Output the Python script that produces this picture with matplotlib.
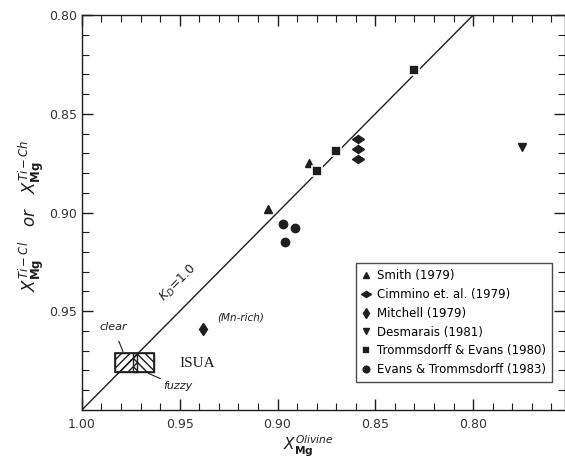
import matplotlib
matplotlib.use('Agg')
import matplotlib.pyplot as plt
from matplotlib.markers import MarkerStyle
from matplotlib.transforms import Affine2D
from matplotlib.patches import Rectangle

# olivine X_Mg (x) vs Ti-clinohumite / Ti-chondrodite X_Mg (y)
smith_x = [0.884, 0.905]
smith_y = [0.875, 0.898]
cimmino_x = [0.859, 0.859, 0.859]
cimmino_y = [0.863, 0.868, 0.873]
mitchell_x = [0.938]
mitchell_y = [0.959]
desmarais_x = [0.775]
desmarais_y = [0.867]
trom_evans_x = [0.830, 0.870, 0.880]
trom_evans_y = [0.828, 0.869, 0.879]
evans_trom_x = [0.897, 0.891, 0.896]
evans_trom_y = [0.906, 0.908, 0.915]

kd_line = [1.00, 0.80]
isua_clear = (0.983, 0.972)   # x range, hatched ///
isua_fuzzy = (0.974, 0.963)   # x range, hatched \\\
isua_y = (0.971, 0.981)

ink = '#1e1e1e'
plt.rcParams['hatch.linewidth'] = 1.0
plt.rcParams['hatch.color'] = ink

fig = plt.figure(figsize=(5.65, 4.58), dpi=100)
ax = fig.add_axes([0.145, 0.105, 0.855, 0.862])

ax.plot(kd_line, kd_line, color=ink, lw=1.0, zorder=1)

wide_d = MarkerStyle('d', transform=Affine2D().rotate_deg(90))
ms = dict(color=ink, linestyle='none', zorder=3)
ax.plot(smith_x, smith_y, marker='^', markersize=6, label='Smith (1979)', **ms)
ax.plot(cimmino_x, cimmino_y, marker=wide_d, markersize=6.5, label='Cimmino et. al. (1979)', **ms)
ax.plot(mitchell_x, mitchell_y, marker='d', markersize=6.5, label='Mitchell (1979)', **ms)
ax.plot(desmarais_x, desmarais_y, marker='v', markersize=6, label='Desmarais (1981)', **ms)
ax.plot(trom_evans_x, trom_evans_y, marker='s', markersize=7, markeredgecolor='white',
        markeredgewidth=1.2, label='Trommsdorff & Evans (1980)', color=ink, linestyle='none', zorder=3)
ax.plot(evans_trom_x, evans_trom_y, marker='o', markersize=6, label='Evans & Trommsdorff (1983)', **ms)

# ISUA box
ax.add_patch(Rectangle((isua_clear[1], isua_y[0]), isua_clear[0] - isua_clear[1],
                       isua_y[1] - isua_y[0], fill=False, hatch='////', edgecolor=ink, lw=1.0, zorder=2))
ax.add_patch(Rectangle((isua_fuzzy[1], isua_y[0]), isua_fuzzy[0] - isua_fuzzy[1],
                       isua_y[1] - isua_y[0], fill=False, hatch='\\\\\\\\', edgecolor=ink, lw=1.0, zorder=2))
ax.add_patch(Rectangle((isua_fuzzy[1], isua_y[0]), isua_clear[0] - isua_fuzzy[1],
                       isua_y[1] - isua_y[0], fill=False, edgecolor=ink, lw=1.2, zorder=2))

ax.text(0.941, 0.9765, 'ISUA', fontsize=11, ha='center', va='center', color=ink,
        family='Liberation Serif')
ax.annotate('clear', xy=(0.979, 0.9705), xytext=(0.984, 0.958), fontsize=8, style='italic',
            ha='center', va='center', color=ink,
            arrowprops=dict(arrowstyle='-', color=ink, lw=0.8, shrinkB=0, shrinkA=5))
ax.annotate('fuzzy', xy=(0.966, 0.9815), xytext=(0.951, 0.988), fontsize=8, style='italic',
            ha='center', va='center', color=ink,
            arrowprops=dict(arrowstyle='-', color=ink, lw=0.8, shrinkB=0, shrinkA=12))
ax.text(0.919, 0.953, '(Mn-rich)', fontsize=7.5, style='italic', ha='center', va='center', color=ink)
ax.text(0.951, 0.936, r'$K_D$=1.0', fontsize=9, rotation=45, ha='center', va='center', color=ink)

ax.set_xlim(1.00, 0.753)
ax.set_ylim(1.00, 0.80)
ax.set_xticks([1.00, 0.95, 0.90, 0.85, 0.80])
ax.set_xticklabels(['1.00', '0.95', '0.90', '0.85', '0.80'])
ax.set_yticks([0.80, 0.85, 0.90, 0.95])
ax.set_yticklabels(['0.80', '0.85', '0.90', '0.95'])
ax.set_xticks([1.0 - 0.01 * i for i in range(25)], minor=True)
ax.set_yticks([0.80 + 0.01 * i for i in range(21)], minor=True)
ax.tick_params(which='both', direction='in', top=True, right=True, colors=ink,
               labelsize=9, labelcolor='#333333')
ax.tick_params(which='major', length=8, width=1)
ax.tick_params(which='minor', length=5, width=0.8)
ax.tick_params(axis='x', pad=6)
for s in ax.spines.values():
    s.set_color(ink)
    s.set_linewidth(1.0)

leg = ax.legend(loc='lower right', bbox_to_anchor=(0.985, 0.055), fontsize=8.5, frameon=True,
                fancybox=False, edgecolor=ink, handlelength=0.8, handletextpad=0.5,
                borderpad=0.5, labelspacing=0.5, markerscale=0.8)
leg.get_frame().set_linewidth(1.0)

fig.text(0.545, 0.025, r'$X_{\mathbf{Mg}}^{\mathit{Olivine}}$', fontsize=11, ha='center', va='center',
         color=ink)
fig.text(0.055, 0.53, r'$X_{\mathbf{Mg}}^{\mathit{Ti-Cl}}$   $\mathit{or}$   $X_{\mathbf{Mg}}^{\mathit{Ti-Ch}}$',
         fontsize=12, rotation=90, ha='center', va='center', color=ink)

fig.savefig('out.png', dpi=100)
